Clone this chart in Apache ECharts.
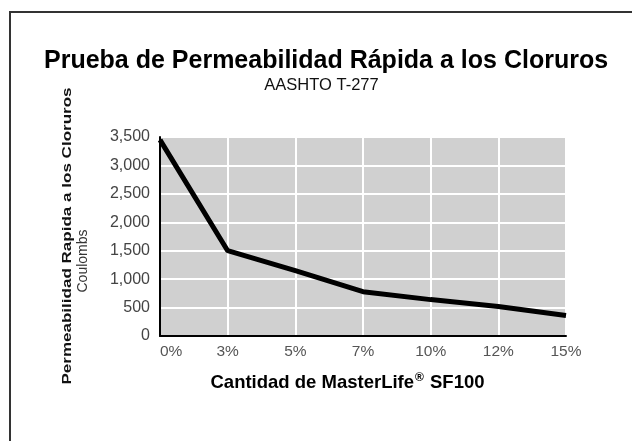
<!DOCTYPE html>
<html>
<head>
<meta charset="utf-8">
<script src="https://cdn.jsdelivr.net/npm/echarts@6/dist/echarts.min.js"></script>
<style>
  html, body { margin: 0; padding: 0; background: #fff; }
  #chart { width: 632px; height: 441px; }
</style>
</head>
<body>
<div id="chart"></div>
<script>
// datos
const dosis = ['0%', '3%', '5%', '7%', '10%', '12%', '15%']
const coulombs = [3450, 1500, 1150, 780, 640, 520, 360]
const yTicks = [0, 500, 1000, 1500, 2000, 2500, 3000, 3500]

const chart = echarts.init(document.getElementById('chart'))
const font = 'Liberation Sans, Arial, sans-serif'

chart.setOption({
  backgroundColor: '#fff',
  animation: false,
  textStyle: { fontFamily: font },
  grid: {
    left: 160,
    top: 137,
    right: 66,
    bottom: 105,
    show: true,
    backgroundColor: '#d0d0d0',
    borderWidth: 0
  },
  xAxis: {
    type: 'category',
    data: dosis,
    boundaryGap: false,
    axisLine: { lineStyle: { color: '#000', width: 2 } },
    axisTick: { show: false },
    axisLabel: {
      color: '#555',
      fontSize: 15.5,
      margin: 8,
      fontFamily: font,
      alignMinLabel: 'left'
    },
    splitLine: { show: true, lineStyle: { color: '#fff', width: 2 } }
  },
  yAxis: {
    type: 'value',
    min: yTicks[0],
    max: yTicks[yTicks.length - 1],
    interval: 500,
    axisLine: { show: true, lineStyle: { color: '#000', width: 2 } },
    axisTick: { show: false },
    axisLabel: {
      color: '#444',
      fontSize: 16,
      margin: 10,
      fontFamily: font,
      formatter(v) {
        return v.toLocaleString('en-US')
      }
    },
    splitLine: { show: true, lineStyle: { color: '#fff', width: 2 } }
  },
  graphic: [
    {
      type: 'rect',
      silent: true,
      shape: { x: 10, y: 12, width: 640, height: 460 },
      style: { fill: 'none', stroke: '#333', lineWidth: 2 }
    },
    {
      type: 'text',
      x: 44,
      y: 61.5,
      style: {
        text: 'Prueba de Permeabilidad Rápida a los Cloruros',
        fontSize: 25,
        fontWeight: 'bold',
        fontFamily: font,
        fill: '#000',
        align: 'left',
        verticalAlign: 'middle'
      }
    },
    {
      type: 'text',
      x: 321.5,
      y: 85,
      style: {
        text: 'AASHTO T-277',
        fontSize: 16.5,
        fontFamily: font,
        fill: '#111',
        align: 'center',
        verticalAlign: 'middle'
      }
    },
    {
      // titulo del eje y, estirado a lo largo como en la imagen original
      type: 'text',
      x: 67,
      y: 236,
      rotation: Math.PI / 2,
      scaleX: 1.31,
      style: {
        text: 'Permeabilidad Rapida a los Cloruros',
        fontSize: 13,
        fontWeight: 'bold',
        fontFamily: font,
        fill: '#111',
        align: 'center',
        verticalAlign: 'middle'
      }
    },
    {
      type: 'text',
      x: 83,
      y: 261,
      rotation: Math.PI / 2,
      style: {
        text: 'Coulombs',
        fontSize: 14,
        fontFamily: font,
        fill: '#333',
        align: 'center',
        verticalAlign: 'middle'
      }
    },
    {
      type: 'text',
      x: 347.5,
      y: 383,
      style: {
        text: '{b|Cantidad de MasterLife}{sup|®}{b| SF100}',
        align: 'center',
        verticalAlign: 'middle',
        rich: {
          b: {
            fontSize: 18.5,
            fontWeight: 'bold',
            fontFamily: font,
            fill: '#000',
            height: 22
          },
          sup: {
            fontSize: 12,
            fontWeight: 'bold',
            fontFamily: font,
            fill: '#000',
            height: 12,
            verticalAlign: 'top',
            padding: [0, 1, 0, 1]
          }
        }
      }
    }
  ],
  series: [{
    name: 'Coulombs',
    type: 'line',
    data: coulombs,
    symbol: 'none',
    lineStyle: { color: '#000', width: 5 },
    z: 5
  }]
})
</script>
</body>
</html>
